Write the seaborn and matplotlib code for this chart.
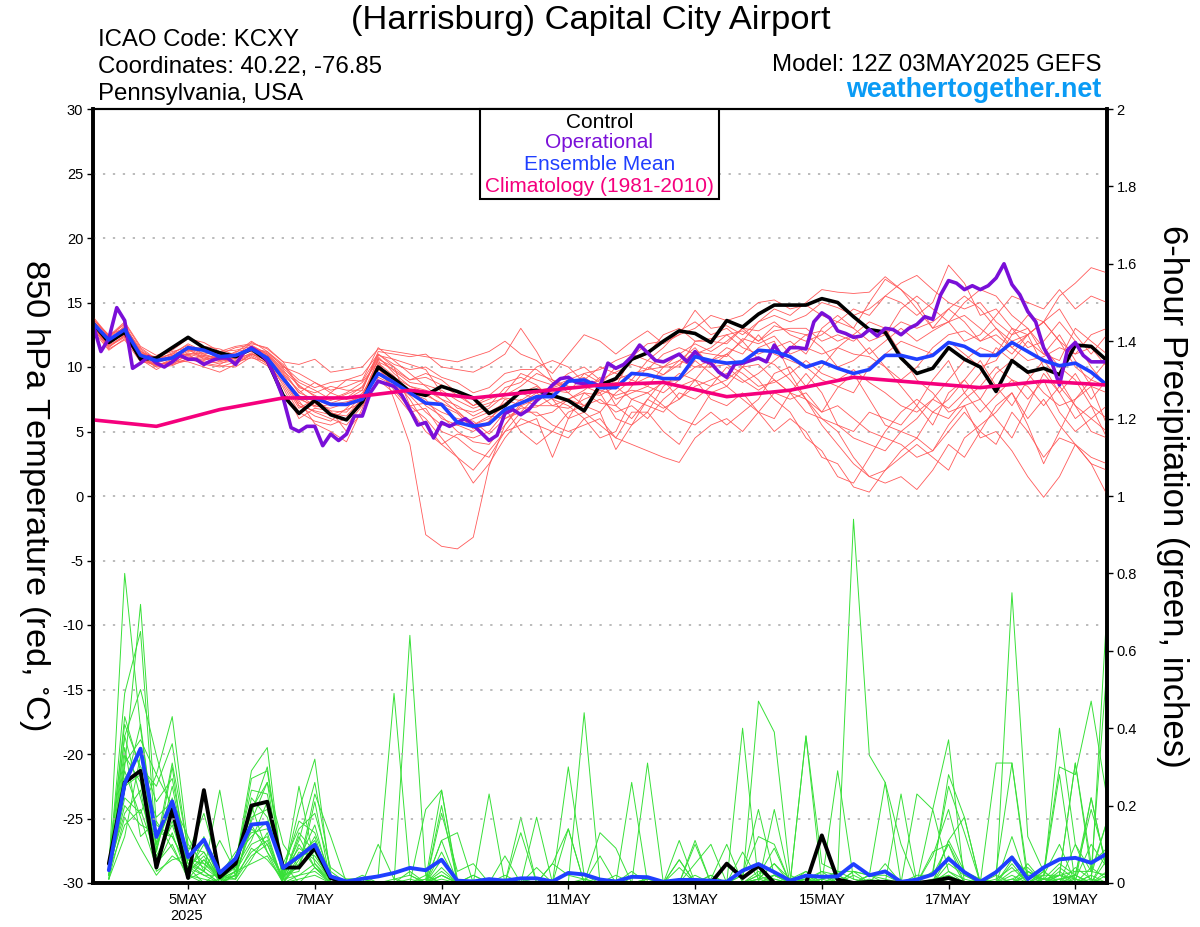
import numpy as np
import pandas as pd
import matplotlib
matplotlib.use("Agg")
import matplotlib.pyplot as plt
import seaborn as sns

# ---- tick labels / text ----
DATE_TICKS = [6, 14, 22, 30, 38, 46, 54, 62]
DATE_LABELS = ["5MAY", "7MAY", "9MAY", "11MAY", "13MAY", "15MAY", "17MAY", "19MAY"]

# ---- 850 hPa temperature, 6-hourly, step 0..64 ----
control_t = [13.4,11.9,12.7,10.6,10.7,11.5,12.3,11.5,11.1,10.8,11.4,10.5,7.8,
             6.4,7.4,6.3,5.9,7.3,10.0,9.1,8.1,7.8,8.5,8.1,7.6,6.4,
             7.0,8.1,8.2,7.8,7.4,6.6,8.6,9.1,10.6,11.1,12.0,12.8,12.6,
             11.9,13.6,13.1,14.1,14.8,14.8,14.8,15.3,15.0,13.9,12.9,12.7,10.7,
             9.5,9.9,11.5,10.6,10.0,8.1,10.5,9.6,9.9,9.4,11.7,11.6,10.5]
mean_t = [13.4,12.1,12.9,10.9,10.5,10.7,11.5,11.3,10.8,10.9,11.4,10.7,9.1,
          7.6,7.6,7.1,7.1,7.5,9.5,8.8,8.0,7.2,7.1,5.7,5.4,5.6,
          6.7,7.2,7.7,7.7,8.9,9.0,8.4,8.4,9.5,9.4,9.1,9.1,10.8,
          10.5,10.3,10.4,11.3,11.2,10.8,10.0,10.4,9.9,9.5,9.8,10.9,10.9,
          10.6,10.9,11.9,11.6,10.9,10.9,11.9,11.2,10.5,10.1,10.3,9.6,8.6]
# operational is 3-hourly, half-step 0..128
oper_t = [13.3,11.2,12.2,14.6,13.6,9.9,10.3,10.8,10.3,10.0,10.4,10.9,10.6,10.6,10.2,10.5,
          10.7,10.7,10.2,11.1,11.5,11.1,10.5,9.2,7.6,5.3,5.0,5.4,5.4,3.9,4.8,4.3,
          4.8,6.2,6.2,8.0,8.9,8.7,8.5,7.8,6.7,5.5,5.7,4.5,5.7,5.4,5.7,6.0,
          5.5,4.9,4.3,4.7,6.4,6.7,6.3,6.7,7.4,7.9,8.6,9.1,9.2,8.8,8.7,8.8,
          8.5,10.3,9.9,10.2,10.8,11.7,11.1,10.5,10.4,10.7,11.0,10.4,11.2,10.5,10.3,9.6,
          9.2,10.2,10.3,10.5,10.7,10.4,11.7,10.8,11.5,11.5,11.4,13.5,14.2,13.8,12.8,12.6,
          12.3,12.4,12.9,12.4,13.0,12.9,12.5,13.0,13.3,13.9,13.7,15.6,16.7,16.5,16.0,16.3,
          16.0,16.3,16.9,18.0,16.4,15.6,14.3,13.5,11.5,10.4,8.6,11.3,11.9,10.9,10.4,10.4,
          10.4]
clim_steps = [0,4,8,12,16,20,24,28,32,36,40,44,48,52,56,60,64]
clim_t = [5.9,5.4,6.7,7.6,7.6,8.2,7.6,8.1,8.6,8.8,7.7,8.2,9.2,8.8,8.4,8.9,8.6]

member_t = [
[13.6,12.0,13.0,11.0,10.4,10.9,11.3,10.8,10.5,10.7,11.6,10.9,9.6,
 8.0,7.5,6.6,6.5,7.8,10.6,7.5,4.0,-3.0,-3.9,-4.1,-3.2,2.3,
 5.5,7.2,8.0,7.0,7.5,8.2,9.2,7.0,8.5,10.0,9.4,10.5,11.5,
 10.0,11.0,12.0,10.6,10.2,9.0,7.5,6.5,8.4,9.5,7.5,5.5,5.0,
 4.5,6.5,7.5,9.0,10.5,8.5,7.0,9.0,10.5,9.0,7.0,6.0,5.0],
[13.2,11.5,12.5,10.5,10.2,10.4,10.8,10.5,10.9,11.0,11.2,10.4,9.0,
 7.5,7.0,8.0,7.5,8.2,11.2,11.0,10.8,11.0,10.0,9.8,9.6,10.2,
 11.0,13.0,11.2,9.0,8.0,7.0,7.5,6.5,7.0,6.0,7.5,8.5,9.0,
 8.5,10.0,9.0,8.2,9.0,8.0,7.5,5.5,4.0,2.5,1.5,2.0,3.5,
 4.5,3.5,5.0,6.5,5.0,7.0,8.0,5.5,2.5,5.0,7.5,9.0,10.5],
[13.8,12.3,13.4,11.5,10.6,11.0,11.8,11.2,11.0,11.5,11.7,11.0,9.8,
 8.0,8.8,8.0,9.0,9.4,11.0,10.0,9.0,9.5,9.0,8.0,7.0,7.5,
 8.0,9.5,9.0,8.6,9.5,10.0,9.0,8.5,10.8,11.8,12.0,12.5,14.4,
 13.0,13.2,12.5,13.5,14.0,13.5,14.0,15.0,14.6,14.0,14.5,15.5,15.0,
 14.0,15.0,17.9,16.5,14.0,14.5,13.0,12.5,13.5,12.0,11.0,11.5,10.0],
[13.0,11.8,12.6,10.8,10.0,10.2,11.0,10.2,10.0,10.4,11.0,10.5,8.6,
 6.5,5.8,5.5,6.0,7.5,9.5,8.5,7.0,6.0,4.5,3.0,1.0,2.5,
 4.5,6.0,5.5,5.0,6.5,7.0,6.5,3.6,5.5,7.5,6.8,7.5,9.0,
 10.5,11.0,10.0,11.5,12.0,9.5,7.5,6.0,5.0,3.0,1.5,1.0,1.5,
 0.5,2.0,4.0,3.0,5.0,4.0,6.5,5.0,3.0,4.5,4.0,2.5,0.1],
[13.5,12.2,12.8,11.0,10.8,11.2,11.5,11.0,10.6,10.9,11.4,11.2,10.0,
 9.5,8.8,8.2,8.5,9.0,11.5,10.5,9.5,8.5,7.5,6.5,5.5,6.0,
 7.0,8.0,7.5,8.2,8.0,9.5,9.8,10.5,11.0,10.5,11.5,12.8,13.5,
 12.5,13.0,12.0,13.5,14.5,14.0,15.0,16.0,15.8,15.7,15.8,17.0,16.0,
 15.0,13.0,14.5,13.5,12.0,13.0,11.5,12.5,13.5,12.0,10.0,9.0,8.5],
[13.4,12.0,13.2,11.2,10.5,10.9,11.0,10.7,10.2,10.8,11.9,11.4,10.4,
 8.5,7.8,7.2,7.6,8.5,10.8,9.5,8.5,8.2,7.5,7.0,6.2,6.8,
 7.8,8.5,9.5,9.0,8.5,8.5,8.0,9.0,9.5,9.8,10.0,11.0,11.8,
 11.2,12.0,13.0,12.8,13.5,12.5,12.0,12.5,13.5,14.5,14.0,15.5,16.5,
 17.1,16.0,15.0,14.5,15.0,13.5,12.5,14.0,13.5,15.5,16.5,17.7,17.3],
[12.8,11.3,12.2,10.6,9.8,10.5,10.4,10.0,9.6,10.2,11.0,10.7,9.5,
 7.2,6.5,6.0,5.5,7.0,9.0,8.0,6.5,6.8,5.0,4.5,3.5,3.0,
 5.0,5.5,6.0,3.0,6.0,6.5,5.5,4.5,6.5,6.5,5.0,4.0,6.0,
 8.0,8.5,7.5,6.5,5.0,6.0,5.0,3.0,2.5,0.7,0.3,2.0,3.0,
 4.0,3.0,2.0,4.5,5.5,6.5,8.0,6.0,7.5,5.5,4.0,2.5,2.0],
[13.7,12.5,13.0,11.3,10.3,10.7,11.2,11.6,11.4,10.9,11.3,10.6,9.2,
 7.8,7.0,6.8,7.2,7.8,10.2,8.8,8.0,7.5,6.0,5.5,5.0,5.8,
 7.5,7.0,7.5,8.5,9.0,9.5,8.8,7.5,8.0,8.5,8.0,9.0,10.5,
 9.5,8.5,10.0,10.2,9.0,8.0,6.5,6.0,5.5,5.0,6.5,6.0,5.5,
 7.0,5.5,8.0,9.0,7.5,9.5,10.5,9.5,8.0,7.0,7.5,8.5,8.0],
[13.1,11.7,12.4,10.9,10.1,10.6,10.9,10.4,10.3,10.5,11.1,10.2,9.3,
 7.0,6.2,5.8,6.8,8.0,9.8,9.0,7.5,5.5,4.0,3.0,2.0,3.5,
 5.0,6.5,6.5,5.5,5.0,5.5,6.0,4.5,4.0,3.5,3.0,2.6,4.5,
 5.5,6.0,5.0,6.5,8.0,7.5,8.0,6.5,7.0,6.0,5.0,4.5,4.0,
 3.0,3.5,5.5,7.0,4.5,5.0,3.5,1.5,-0.1,1.5,4.0,3.0,2.5],
[13.9,12.4,13.5,11.6,10.9,11.3,12.2,11.9,11.2,11.6,11.8,11.5,10.4,
 10.2,10.6,9.6,9.8,10.0,11.4,11.2,11.0,10.8,10.6,10.4,10.8,11.2,
 12.0,11.0,10.5,9.5,11.0,12.5,12.0,11.0,12.0,12.8,11.8,12.5,13.0,
 14.0,13.6,14.0,15.0,15.2,14.5,14.8,14.0,13.5,13.0,15.0,16.8,16.0,
 14.5,13.0,13.5,12.0,12.5,14.0,15.5,15.0,14.5,16.0,14.5,15.5,15.0],
[13.3,11.9,12.7,11.0,10.7,10.6,11.4,10.9,10.7,10.6,11.5,11.0,9.9,
 8.8,8.2,7.5,8.0,8.8,10.4,9.8,9.0,9.2,8.6,7.8,7.0,7.8,
 8.8,9.2,8.6,7.5,7.0,6.0,6.5,8.0,9.0,8.5,10.0,10.5,10.0,
 10.5,11.5,11.0,12.5,11.0,10.5,10.0,9.0,8.5,8.0,10.0,11.0,12.0,
 11.5,11.0,12.0,11.0,10.0,10.5,12.5,13.0,11.5,10.0,9.0,7.0,6.0],
[12.9,11.6,12.3,10.7,10.0,10.1,10.7,10.6,10.8,10.3,10.9,10.3,8.8,
 6.8,7.5,7.0,7.0,7.4,10.0,8.2,6.8,5.0,4.0,4.8,4.5,5.0,
 6.5,7.5,7.0,7.0,6.8,7.5,8.0,6.0,5.5,6.5,8.5,9.5,9.0,
 7.5,7.0,8.0,6.5,6.0,8.0,9.5,8.0,5.5,4.5,4.0,3.5,5.0,
 6.0,7.5,9.0,10.5,11.5,11.0,13.0,11.5,12.0,13.5,12.0,10.0,8.5],
[13.6,12.1,12.9,11.1,10.4,10.8,11.6,11.4,10.5,11.2,11.4,10.8,9.4,
 8.2,7.2,6.4,6.2,7.6,10.6,10.0,7.0,7.2,6.5,6.0,5.8,4.8,
 6.0,6.5,7.8,8.0,9.0,9.0,10.0,9.5,9.0,10.5,10.0,10.0,12.0,
 12.2,12.5,11.5,11.0,11.5,12.0,11.0,13.0,14.0,13.0,12.0,12.5,13.5,
 13.0,13.5,14.5,15.5,14.5,13.0,12.0,12.5,10.0,8.0,6.0,7.0,4.5],
[13.0,11.4,12.1,10.4,10.2,10.3,10.6,10.3,10.1,10.0,10.8,10.1,8.4,
 6.0,6.8,6.6,5.0,6.5,9.2,8.6,7.8,6.5,5.5,5.5,6.0,6.5,
 7.2,8.0,8.5,7.5,6.0,8.0,7.2,7.0,6.0,7.5,9.0,7.5,8.5,
 9.0,9.5,8.8,9.5,10.5,11.5,12.5,11.5,10.0,10.5,11.5,10.0,8.5,
 7.0,9.0,10.5,8.0,9.5,11.5,10.5,12.0,11.0,12.5,10.5,8.5,5.5],
[13.5,12.3,13.1,11.4,10.5,11.1,11.7,11.0,11.2,11.3,11.6,11.1,10.1,
 9.0,8.4,8.8,9.0,8.9,10.9,10.6,10.2,9.8,8.0,6.8,6.5,7.0,
 8.4,8.8,10.0,10.5,10.0,8.8,8.6,10.0,10.5,11.0,12.5,13.0,12.0,
 12.0,11.8,13.0,12.0,12.8,13.0,13.0,12.0,12.5,12.0,13.0,12.5,14.5,
 15.5,14.5,13.5,15.0,16.0,15.5,14.0,13.0,11.0,10.5,13.0,12.0,11.0],
[13.2,11.8,12.6,10.8,10.1,10.5,11.1,10.8,10.4,10.7,11.0,10.6,9.0,
 7.0,6.6,6.3,6.7,7.2,9.6,9.0,8.2,7.0,6.2,5.0,4.2,4.0,
 5.5,7.0,6.2,6.5,7.5,8.0,7.8,8.5,7.5,7.0,6.5,8.0,7.5,
 8.5,9.0,10.0,9.0,7.5,6.5,4.5,3.5,1.5,1.0,3.0,5.0,6.5,
 7.5,6.5,6.0,7.5,8.5,10.0,9.0,7.5,9.0,6.5,5.0,6.0,7.0],
[13.7,12.4,13.3,11.1,10.6,10.8,11.3,11.3,10.9,11.1,12.0,11.2,10.2,
 8.4,8.0,8.5,8.2,8.2,11.0,10.2,9.8,10.0,9.2,8.8,8.0,8.4,
 9.5,9.8,9.8,8.8,8.5,8.4,9.0,9.6,10.2,9.8,11.0,11.5,11.0,
 11.5,12.5,12.8,12.0,13.2,12.8,12.5,12.8,12.0,12.5,11.0,12.0,13.0,
 12.0,12.8,13.5,14.0,13.0,12.0,11.0,12.5,13.5,14.5,12.5,11.0,12.5],
[13.1,11.6,12.4,10.6,10.3,10.2,10.5,10.9,10.6,10.4,10.7,10.4,9.2,
 7.4,5.6,5.0,4.2,6.8,9.9,9.2,8.5,8.0,7.0,6.4,5.2,5.5,
 6.8,5.0,4.0,5.0,4.5,6.0,4.5,5.0,7.5,8.0,7.0,6.0,5.5,
 6.5,5.5,6.5,7.5,9.5,10.0,8.5,10.0,11.5,12.5,13.5,13.0,11.0,
 9.0,8.0,6.5,7.0,7.5,6.0,4.5,7.0,9.5,8.0,9.5,7.5,9.0],
[13.4,12.1,12.8,11.2,10.7,11.0,11.4,10.6,10.7,10.8,11.3,10.9,9.7,
 8.6,7.7,7.4,7.9,8.4,10.7,9.7,8.8,8.6,8.2,7.4,6.8,7.2,
 7.6,7.4,8.2,8.4,8.8,9.2,8.4,8.8,8.6,9.2,9.4,10.2,11.2,
 11.0,10.8,12.2,11.8,12.4,11.0,11.5,11.0,11.5,11.0,10.8,10.0,9.0,
 10.0,11.5,12.5,12.8,12.0,12.5,11.5,10.5,10.8,11.5,11.0,12.5,13.0],
[13.3,12.0,12.5,10.9,10.5,10.7,11.0,11.1,11.0,10.9,11.5,10.7,9.1,
 7.6,6.9,7.1,7.3,7.7,10.3,9.3,7.8,7.8,7.2,6.6,5.5,6.2,
 6.0,6.8,6.9,7.6,7.5,7.0,8.2,7.8,8.2,8.0,8.8,9.0,10.0,
 10.0,10.2,9.5,8.5,8.8,9.5,10.5,9.5,9.0,9.8,8.8,8.0,7.0,
 6.5,7.5,6.8,8.0,6.5,7.8,9.0,8.5,7.0,8.5,7.0,5.0,4.5],
]

# ---- 6-hour precipitation, step 1..64 ----
control_p = [.05,.26,.29,.04,.19,.013,.24,.015,.05,.20,.21,.04,.04,.09,.013,.00,
             .00,.00,.00,.00,.00,.00,.00,.00,.00,.00,.00,.00,.00,.00,.00,.00,
             .00,.00,.00,.00,.00,.00,.00,.05,.013,.044,.00,.00,.00,.123,.009,.00,
             .003,.003,.00,.00,.005,.013,.00,.00,.00,.00,.00,.00,.00,.00,.00,.00]
mean_p = [.033,.257,.347,.119,.211,.067,.112,.026,.063,.151,.155,.039,.069,.099,.017,.004,
          .011,.017,.026,.039,.033,.060,.006,.004,.010,.006,.012,.012,.004,.026,.022,.009,
          .004,.016,.015,.003,.008,.008,.006,.003,.032,.049,.028,.006,.019,.016,.017,.049,
          .020,.030,.003,.009,.022,.063,.028,.003,.028,.066,.010,.040,.061,.065,.052,.076]
member_p = [
[.03,.80,.40,.10,.20,.06,.03,.00,.02,.14,.10,.01,.02,.05,.01,.00,
 .00,.00,.00,.00,.00,.02,.00,.00,.00,.00,.01,.00,.00,.00,.01,.00,
 .00,.00,.00,.00,.00,.00,.00,.00,.00,.00,.00,.00,.00,.02,.00,.00,
 .00,.00,.00,.00,.00,.00,.00,.00,.00,.00,.00,.00,.01,.02,.00,.71],
[.02,.30,.72,.15,.12,.04,.08,.01,.03,.20,.08,.02,.04,.10,.02,.00,
 .01,.00,.00,.00,.00,.00,.00,.00,.01,.00,.00,.00,.00,.00,.00,.00,
 .00,.00,.00,.00,.00,.00,.00,.00,.00,.00,.01,.00,.01,.00,.02,.94,
 .33,.26,.10,.00,.01,.02,.00,.00,.00,.01,.03,.01,.02,.01,.00,.02],
[.04,.49,.65,.08,.30,.02,.12,.00,.07,.12,.16,.05,.00,.04,.00,.01,
 .01,.02,.49,.02,.00,.00,.00,.00,.00,.02,.00,.00,.00,.00,.00,.00,
 .02,.00,.00,.00,.11,.00,.02,.00,.00,.02,.00,.00,.38,.05,.03,.01,
 .00,.00,.00,.00,.00,.01,.00,.00,.00,.00,.00,.00,.02,.31,.03,.56],
[.05,.38,.50,.33,.18,.05,.03,.24,.01,.09,.06,.01,.12,.04,.01,.00,
 .00,.00,.00,.64,.02,.00,.00,.00,.00,.00,.01,.00,.00,.00,.00,.00,
 .00,.00,.00,.00,.00,.00,.01,.10,.00,.47,.39,.02,.00,.00,.29,.01,
 .00,.00,.00,.23,.19,.37,.00,.01,.00,.00,.02,.01,.00,.00,.01,.00],
[.02,.31,.37,.28,.43,.10,.05,.01,.05,.29,.35,.01,.25,.05,.00,.00,
 .00,.00,.01,.00,.19,.24,.00,.00,.23,.00,.00,.00,.00,.00,.00,.00,
 .00,.26,.00,.00,.00,.11,.00,.00,.00,.01,.02,.01,.01,.00,.00,.03,
 .02,.03,.00,.01,.02,.28,.17,.00,.31,.31,.02,.01,.40,.10,.03,.16],
[.06,.41,.30,.25,.36,.08,.18,.03,.04,.27,.29,.02,.19,.32,.01,.00,
 .02,.00,.00,.03,.00,.20,.00,.00,.00,.07,.00,.00,.05,.02,.01,.00,
 .00,.00,.31,.00,.06,.00,.01,.00,.40,.00,.02,.00,.02,.00,.00,.00,
 .02,.01,.00,.00,.03,.25,.13,.00,.00,.75,.12,.03,.30,.28,.47,.22],
[.03,.25,.28,.17,.21,.12,.03,.11,.03,.19,.26,.10,.04,.23,.12,.00,
 .00,.10,.01,.02,.00,.11,.13,.00,.00,.00,.00,.17,.00,.30,.02,.00,
 .00,.03,.00,.00,.00,.10,.00,.00,.00,.00,.19,.00,.38,.00,.00,.00,
 .00,.00,.23,.00,.00,.11,.03,.01,.00,.00,.02,.02,.28,.00,.00,.08],
[.01,.38,.22,.08,.25,.05,.02,.02,.08,.13,.14,.05,.14,.18,.04,.01,
 .01,.00,.00,.01,.00,.18,.03,.05,.00,.00,.13,.00,.00,.14,.00,.13,
 .09,.00,.01,.00,.00,.05,.10,.00,.02,.19,.02,.00,.01,.02,.01,.00,
 .02,.26,.00,.02,.02,.10,.02,.00,.03,.31,.00,.02,.10,.00,.22,.03],
[.02,.27,.34,.06,.16,.03,.10,.01,.02,.22,.17,.03,.09,.06,.01,.00,
 .00,.00,.00,.00,.01,.24,.01,.00,.00,.00,.17,.00,.00,.00,.44,.00,
 .00,.00,.01,.00,.00,.02,.00,.00,.00,.00,.02,.00,.00,.01,.03,.03,
 .02,.00,.00,.00,.00,.00,.00,.00,.00,.12,.00,.00,.02,.31,.05,.09],
[.02,.22,.18,.28,.20,.02,.00,.03,.05,.18,.30,.02,.03,.21,.00,.00,
 .00,.00,.00,.00,.02,.00,.00,.02,.00,.00,.00,.04,.00,.00,.00,.00,
 .00,.00,.00,.00,.04,.00,.02,.00,.00,.01,.05,.01,.03,.00,.00,.03,
 .00,.00,.00,.00,.19,.03,.00,.00,.00,.05,.00,.00,.01,.02,.22,.03],
[.01,.33,.26,.05,.10,.01,.06,.02,.01,.07,.10,.00,.06,.15,.00,.00,
 .00,.00,.00,.00,.00,.11,.00,.02,.00,.00,.00,.00,.05,.14,.00,.00,
 .00,.00,.00,.00,.06,.00,.00,.00,.00,.01,.00,.00,.01,.03,.00,.02,
 .00,.05,.00,.00,.00,.11,.17,.00,.01,.04,.00,.03,.00,.02,.19,.05],
[.03,.20,.15,.13,.12,.04,.02,.00,.06,.16,.26,.00,.05,.12,.00,.00,
 .00,.00,.00,.00,.00,.08,.00,.00,.00,.00,.00,.00,.00,.00,.00,.07,
 .00,.00,.00,.00,.00,.00,.00,.00,.08,.01,.05,.00,.00,.01,.02,.00,
 .01,.00,.00,.00,.08,.10,.00,.00,.03,.07,.02,.00,.03,.00,.02,.16],
[.04,.18,.24,.03,.06,.07,.04,.01,.04,.11,.21,.01,.13,.08,.00,.00,
 .00,.00,.00,.00,.00,.03,.00,.00,.00,.00,.00,.00,.00,.00,.00,.00,
 .00,.00,.00,.00,.00,.00,.00,.00,.02,.12,.10,.00,.00,.03,.02,.00,
 .02,.02,.00,.00,.07,.19,.03,.00,.00,.03,.04,.00,.04,.01,.10,.04],
[.03,.15,.19,.07,.15,.03,.07,.00,.03,.10,.12,.00,.10,.04,.00,.00,
 .00,.00,.00,.00,.00,.02,.00,.00,.00,.00,.00,.00,.00,.00,.00,.00,
 .00,.00,.00,.00,.00,.00,.00,.00,.00,.02,.09,.00,.00,.01,.00,.00,
 .00,.00,.00,.00,.00,.07,.00,.00,.02,.00,.00,.02,.02,.03,.03,.02],
[.02,.35,.12,.16,.09,.02,.01,.00,.02,.15,.08,.00,.07,.11,.00,.00,
 .00,.00,.00,.00,.00,.01,.00,.00,.00,.01,.00,.00,.00,.00,.00,.00,
 .00,.00,.00,.00,.00,.00,.00,.00,.00,.03,.01,.00,.01,.00,.00,.00,
 .00,.00,.00,.00,.00,.05,.02,.00,.00,.06,.03,.01,.01,.00,.04,.01],
[.01,.12,.33,.21,.27,.06,.05,.02,.06,.24,.23,.03,.16,.13,.02,.00,
 .00,.00,.00,.00,.01,.00,.00,.00,.00,.00,.00,.00,.00,.00,.00,.00,
 .00,.00,.00,.00,.00,.00,.00,.00,.00,.00,.00,.00,.03,.00,.00,.00,
 .00,.00,.00,.00,.00,.03,.01,.00,.00,.00,.05,.00,.00,.10,.00,.00],
[.02,.24,.41,.10,.31,.09,.08,.01,.01,.17,.19,.02,.11,.26,.03,.00,
 .00,.00,.00,.00,.00,.04,.00,.00,.00,.00,.00,.00,.00,.00,.00,.00,
 .00,.00,.00,.00,.00,.00,.00,.00,.00,.00,.00,.00,.00,.00,.01,.00,
 .00,.00,.00,.00,.00,.02,.00,.00,.00,.02,.00,.01,.05,.02,.00,.06],
[.04,.29,.17,.04,.13,.01,.03,.00,.02,.08,.11,.01,.08,.07,.01,.00,
 .00,.00,.00,.00,.00,.06,.00,.00,.00,.00,.00,.00,.00,.00,.00,.00,
 .00,.00,.00,.00,.00,.00,.00,.00,.00,.00,.00,.00,.00,.00,.00,.00,
 .00,.00,.00,.00,.00,.00,.00,.00,.00,.00,.03,.00,.00,.04,.01,.00],
[.01,.17,.09,.02,.07,.04,.00,.01,.03,.05,.07,.00,.02,.03,.00,.00,
 .00,.00,.00,.00,.00,.02,.00,.00,.00,.00,.00,.00,.00,.00,.00,.00,
 .00,.00,.00,.00,.00,.00,.00,.00,.00,.00,.00,.00,.00,.00,.00,.00,
 .00,.00,.00,.00,.00,.00,.00,.00,.00,.01,.00,.00,.02,.00,.02,.00],
[.03,.43,.29,.09,.22,.03,.06,.01,.00,.06,.13,.00,.01,.02,.00,.00,
 .00,.00,.00,.00,.00,.00,.00,.00,.00,.00,.00,.00,.00,.00,.00,.00,
 .00,.00,.00,.00,.00,.00,.00,.00,.00,.00,.00,.00,.00,.00,.00,.00,
 .00,.00,.00,.00,.00,.00,.00,.00,.00,.00,.00,.03,.00,.01,.00,.03],
]

steps_t = np.arange(len(control_t))
steps_p = np.arange(1, len(control_p) + 1)
steps_op = np.arange(len(oper_t)) / 2

temp_df = pd.DataFrame([(m, s, v) for m, row in enumerate(member_t)
                        for s, v in zip(steps_t, row)], columns=["member", "step", "value"])
prcp_df = pd.DataFrame([(m, s, v) for m, row in enumerate(member_p)
                        for s, v in zip(steps_p, row)], columns=["member", "step", "value"])

sns.set_theme(style="white")
plt.rcParams["font.family"] = ["Liberation Sans", "DejaVu Sans"]
plt.rcParams["axes.unicode_minus"] = False

RED, GREEN = "#ff5a5a", "#38e038"
BLUE, PURPLE, PINK = "#1f3fff", "#7a0fd8", "#f5007d"

fig = plt.figure(figsize=(12, 9.27), dpi=100)
ax = fig.add_axes([93 / 1200, 44 / 927, 1014 / 1200, 774 / 927])
ax2 = ax.twinx()

# precipitation
sns.lineplot(data=prcp_df, x="step", y="value", units="member", estimator=None,
             color=GREEN, lw=0.7, ax=ax2, legend=False)
sns.lineplot(x=steps_p, y=control_p, color="black", lw=2.8, ax=ax2)
sns.lineplot(x=steps_p, y=mean_p, color=BLUE, lw=2.8, ax=ax2)

# temperature
ax.set_zorder(ax2.get_zorder() + 1)
ax.patch.set_visible(False)
sns.lineplot(data=temp_df, x="step", y="value", units="member", estimator=None,
             color=RED, lw=0.6, ax=ax, legend=False)
sns.lineplot(x=steps_t, y=control_t, color="black", lw=2.6, ax=ax)
sns.lineplot(x=steps_op, y=oper_t, color=PURPLE, lw=2.6, ax=ax)
sns.lineplot(x=steps_t, y=mean_t, color=BLUE, lw=2.6, ax=ax)
sns.lineplot(x=clim_steps, y=clim_t, color=PINK, lw=2.6, ax=ax)

ax.set_xlim(0, 64)
ax.set_ylim(-30, 30)
ax2.set_ylim(0, 2)
ax.set_yticks(np.arange(-30, 31, 5))
ax2.set_yticks(np.arange(0, 2.01, 0.2))
ax2.set_yticklabels(["0", "0.2", "0.4", "0.6", "0.8", "1", "1.2", "1.4", "1.6", "1.8", "2"])
ax.set_xticks(DATE_TICKS)
ax.set_xticklabels(DATE_LABELS)
ax.set_xlabel("")
ax.set_ylabel("")
ax2.set_xlabel("")
ax2.set_ylabel("")
ax.grid(axis="y", color="#a8a8a8", lw=1.1, ls=(0, (1.5, 5.0)))
ax.grid(axis="x", visible=False)
ax2.grid(False)
ax.set_axisbelow(True)

ax.tick_params(axis="both", labelsize=10.5, length=4, width=1, color="black",
               left=True, bottom=True, pad=3, labelcolor="black")
ax2.tick_params(axis="y", labelsize=10.5, length=4, width=1, color="black",
                right=True, pad=3, labelcolor="black")
for a in (ax, ax2):
    a.spines["left"].set_linewidth(2.6)
    a.spines["right"].set_linewidth(2.6)
    a.spines["top"].set_linewidth(1.5)
    a.spines["bottom"].set_linewidth(2.6)
    for s in a.spines.values():
        s.set_color("black")

def px(x, y, s, **kw):
    fig.text(x / 1200, 1 - y / 927, s, **kw)

px(591, 21, "(Harrisburg) Capital City Airport", fontsize=24.8, ha="center", va="center", color="black")
px(98, 40, "ICAO Code: KCXY", fontsize=17.3, va="center", color="black")
px(98, 67, "Coordinates: 40.22, -76.85", fontsize=17.3, va="center", color="black")
px(98, 94, "Pennsylvania, USA", fontsize=17.3, va="center", color="black")
px(1101, 65, "Model: 12Z 03MAY2025 GEFS", fontsize=17.3, ha="right", va="center", color="black")
px(1101, 90, "weathertogether.net", fontsize=19.4, fontweight="bold", ha="right", va="center", color="#0a9bf5")
px(187, 916, "2025", fontsize=10.5, ha="center", va="center", color="black")
px(34, 495, "850 hPa Temperature (red, $\\mathregular{^{\\circ}}$C)", fontsize=24.8, rotation=270,
   ha="center", va="center", color="black")
px(1172, 496, "6-hour Precipitation (green, inches)", fontsize=25, rotation=270,
   ha="center", va="center", color="black")

# legend box
box = plt.Rectangle((480 / 1200, 1 - 199 / 927), 239 / 1200, 90 / 927, transform=fig.transFigure,
                    facecolor="white", edgecolor="black", lw=1.5, zorder=20)
fig.add_artist(box)
for y, s, c in [(122, "Control", "black"), (143, "Operational", PURPLE),
                (165, "Ensemble Mean", BLUE), (187, "Climatology (1981-2010)", PINK)]:
    px(599.5, y, s, fontsize=15, ha="center", va="center", color=c, zorder=21)

fig.savefig("out.png", dpi=100)
